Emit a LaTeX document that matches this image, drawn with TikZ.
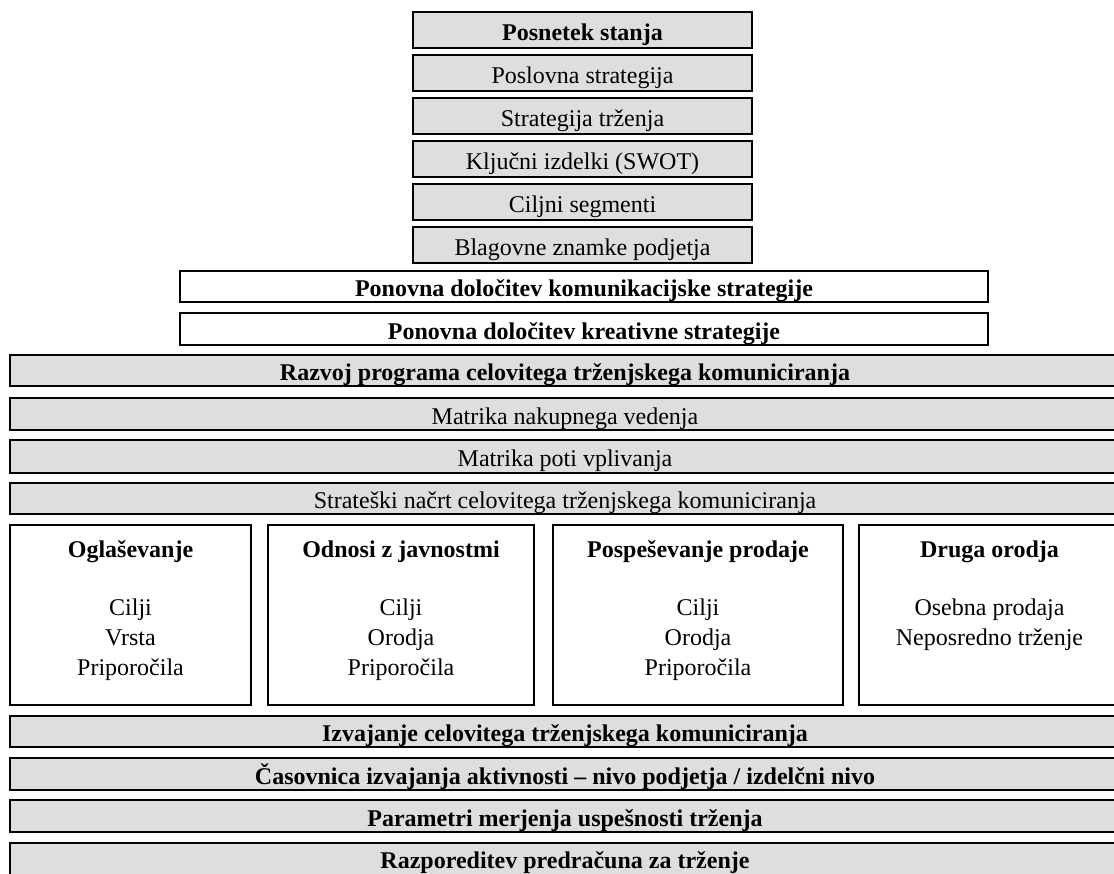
\documentclass[tikz,border=0pt]{standalone}
\usepackage{fontspec}
\setmainfont{Liberation Serif}
\definecolor{boxgray}{HTML}{DEDEDE}
\begin{document}
\begin{tikzpicture}[x=1pt,y=-1pt,
  base/.style={draw, line width=1.4pt, inner sep=0pt, text height=20pt, text depth=0pt, font=\fontsize{24}{28}\selectfont},
  gbox/.style={base, fill=boxgray},
  wbox/.style={base, fill=white},
  bf/.style={font=\bfseries\fontsize{24}{28}\selectfont},
  txt/.style={anchor=base, inner sep=0pt, font=\fontsize{24}{28}\selectfont},
  bigbox/.style={draw, line width=1.4pt, fill=white, inner sep=0pt}
]
\useasboundingbox (0,0) rectangle (1114,873);
\begin{scope}
\clip (0,0) rectangle (1114,873);
% top stack
\node[gbox, bf, minimum width=339pt, minimum height=36pt] (b1) at (582.5,30) {Posnetek stanja};
\node[gbox, minimum width=339pt, minimum height=36pt] (b2) at (582.5,73) {Poslovna strategija};
\node[gbox, minimum width=339pt, minimum height=36pt] (b3) at (582.5,116) {Strategija trženja};
\node[gbox, minimum width=339pt, minimum height=36pt] (b4) at (582.5,159) {Ključni izdelki (SWOT)};
\node[gbox, minimum width=339pt, minimum height=36pt] (b5) at (582.5,202) {Ciljni segmenti};
\node[gbox, minimum width=339pt, minimum height=36pt] (b6) at (582.5,245) {Blagovne znamke podjetja};
% white wide boxes
\node[wbox, bf, minimum width=808pt, minimum height=31pt] (b7) at (584,286.5) {Ponovna določitev komunikacijske strategije};
\node[wbox, bf, minimum width=808pt, minimum height=32pt] (b8) at (584,329) {Ponovna določitev kreativne strategije};
% full-width bars
\node[gbox, bf, minimum width=1110pt, minimum height=31pt] (b9) at (565,370.5) {Razvoj programa celovitega trženjskega komuniciranja};
\node[gbox, minimum width=1110pt, minimum height=32pt] (b10) at (565,414) {Matrika nakupnega vedenja};
\node[gbox, minimum width=1110pt, minimum height=33pt] (b11) at (565,456.5) {Matrika poti vplivanja};
\node[gbox, minimum width=1110pt, minimum height=31pt] (b12) at (565,498.5) {Strateški načrt celovitega trženjskega komuniciranja};
% four boxes
\node[bigbox, minimum width=241pt, minimum height=180pt] (c1) at (130.5,615) {};
\node[bigbox, minimum width=266pt, minimum height=180pt] (c2) at (401,615) {};
\node[bigbox, minimum width=290pt, minimum height=180pt] (c3) at (698,615) {};
\node[bigbox, minimum width=261pt, minimum height=180pt] (c4) at (989.5,615) {};
\node[txt, bf] (c1h) at (130.5,557) {Oglaševanje};
\node[txt] (c1a) at (130.5,615) {Cilji};
\node[txt] (c1b) at (130.5,645) {Vrsta};
\node[txt] (c1c) at (130.5,675) {Priporočila};
\node[txt, bf] (c2h) at (401,557) {Odnosi z javnostmi};
\node[txt] (c2a) at (401,615) {Cilji};
\node[txt] (c2b) at (401,645) {Orodja};
\node[txt] (c2c) at (401,675) {Priporočila};
\node[txt, bf] (c3h) at (698,557) {Pospeševanje prodaje};
\node[txt] (c3a) at (698,615) {Cilji};
\node[txt] (c3b) at (698,645) {Orodja};
\node[txt] (c3c) at (698,675) {Priporočila};
\node[txt, bf] (c4h) at (989.5,557) {Druga orodja};
\node[txt] (c4a) at (989.5,615) {Osebna prodaja};
\node[txt] (c4b) at (989.5,645) {Neposredno trženje};
% bottom bars
\node[gbox, bf, minimum width=1110pt, minimum height=31pt] (b13) at (565,731.5) {Izvajanje celovitega trženjskega komuniciranja};
\node[gbox, bf, minimum width=1110pt, minimum height=32pt] (b14) at (565,774) {Časovnica izvajanja aktivnosti – nivo podjetja / izdelčni nivo};
\node[gbox, bf, minimum width=1110pt, minimum height=32pt] (b15) at (565,816) {Parametri merjenja uspešnosti trženja};
\node[gbox, minimum width=1110pt, minimum height=38pt] (b16) at (565,862) {};
\node[txt, bf] (b16t) at (565,868) {Razporeditev predračuna za trženje};
\end{scope}
\end{tikzpicture}
\end{document}
